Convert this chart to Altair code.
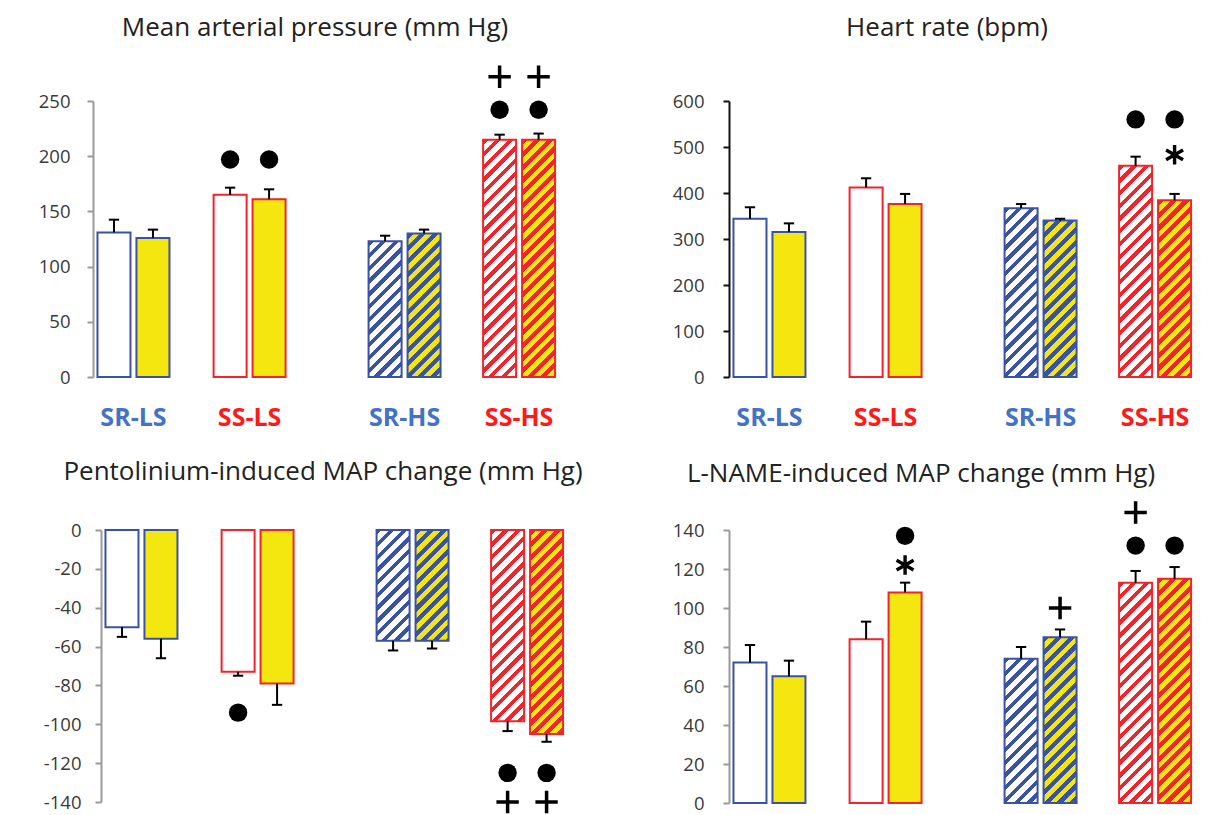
import math
import altair as alt
import pandas as pd

# ---------------- data ----------------
GROUPS = ["SR-LS", "SS-LS", "SR-HS", "SS-HS"]
# bar order: SR-LS white, SR-LS yellow, SS-LS white, SS-LS yellow, SR-HS white, SR-HS yellow, SS-HS white, SS-HS yellow
MAP_MEAN = [131, 126, 165, 161, 123, 130, 215, 215]
MAP_TOP = [142.5, 133.5, 171.5, 170, 128, 133.5, 219.5, 220.5]
HR_MEAN = [344, 315, 412, 376, 367, 340, 459, 384]
HR_TOP = [369, 334, 432, 398, 376, 344, 479, 398]
PENT_MEAN = [-50, -56, -73, -79, -57, -57, -98.5, -105]
PENT_TOP = [-55, -66, -75, -90, -62, -61, -103.5, -109]
LNAME_MEAN = [72, 65, 84, 108, 74, 85, 113, 115]
LNAME_TOP = [81, 73, 93, 113, 80, 89, 119, 121]

# significance symbols: (bar index, symbol, y value)
MAP_MARKS = [(2, "dot", 197), (3, "dot", 197), (6, "dot", 242), (7, "dot", 242), (6, "plus", 272), (7, "plus", 272)]
HR_MARKS = [(6, "dot", 560), (7, "dot", 560), (7, "star", 483)]
PENT_MARKS = [(2, "dot", -94), (6, "dot", -125), (7, "dot", -125), (6, "plus", -140), (7, "plus", -140)]
LNAME_MARKS = [(3, "dot", 137), (3, "star", 122), (5, "plus", 100), (6, "plus", 149), (6, "dot", 132), (7, "dot", 132)]

TITLES = ["Mean arterial pressure (mm Hg)", "Heart rate (bpm)",
          "Pentolinium-induced MAP change (mm Hg)", "L-NAME-induced MAP change (mm Hg)"]

# ---------------- style / layout ----------------
FONT = "Open Sans"
BLUE_LINE = "#3A52A6"
RED_LINE = "#F2232A"
BLUE_TEXT = "#4472C4"
RED_TEXT = "#FF1A1A"
YELLOW = "#F3E70F"
WHITE = "#FFFFFF"

W = 470
XMAX = 4.1
K = W / XMAX  # px per x unit
GROUP_POS = [0.353, 1.366, 2.718, 3.717]
PAIR_OFF = 0.17
BAR_W = 0.288
CAP = 0.045
HATCH_PERIOD = 9.0  # px, perpendicular


def hatch_gradient(bg, fg, w, h, frac=0.45):
    k = (w + h) / (w * w + h * h)
    D = (w + h) / math.sqrt(2)
    step = HATCH_PERIOD / D
    stops = []
    t = 0.0
    while t < 1.0:
        a = min(t + step * frac, 1.0)
        b = min(t + step, 1.0)
        stops += [{"offset": t, "color": fg}, {"offset": a, "color": fg},
                  {"offset": a, "color": bg}, {"offset": b, "color": bg}]
        t += step
    return {"gradient": "linear", "x1": 0, "y1": 0, "x2": k * w, "y2": k * h, "stops": stops}


def panel(title, means, tops, marks, ymin, ymax, step, height, axis_color, show_labels,
          title_x, title_y, label_pad, shift=0, title_size=26):
    rows = []
    for i, (m, t) in enumerate(zip(means, tops)):
        g, d = i // 2, i % 2
        c = GROUP_POS[g] + (PAIR_OFF if d else -PAIR_OFF)
        line = BLUE_LINE if g in (0, 2) else RED_LINE
        rows.append(dict(idx=i, group=GROUPS[g], mean=m, top=t, xc=c,
                         xl=c - BAR_W / 2, xr=c + BAR_W / 2, cl=c - CAP, cr=c + CAP,
                         zero=0, stroke=line, fill=(YELLOW if d else WHITE), hatched=g >= 2))
    df = pd.DataFrame(rows)

    xs = alt.Scale(domain=[-shift / K, XMAX - shift / K])
    ys = alt.Scale(domain=[ymin, ymax], nice=False, zero=False)
    yaxis = alt.Axis(values=list(range(ymin, ymax + 1, step)), title=None, grid=False,
                     domainColor=axis_color, tickColor=axis_color, domainWidth=2, tickWidth=2,
                     tickSize=6, labelFontSize=18.5, labelColor="#3a3a3a", labelFont=FONT,
                     labelPadding=label_pad, offset=-shift,
                     labelExpr="replace(datum.label, '\u2212', '-')")

    def X(f):
        return alt.X(f"{f}:Q", scale=xs, axis=None)

    def Y(f):
        return alt.Y(f"{f}:Q", scale=ys, axis=yaxis)

    base = alt.Chart(df)
    solid = base.transform_filter("!datum.hatched").mark_bar(strokeWidth=2).encode(
        x=X("xl"), x2="xr:Q", y=Y("mean"), y2="zero:Q",
        fill=alt.Fill("fill:N", scale=None), stroke=alt.Stroke("stroke:N", scale=None))

    layers = [solid]
    bar_px = BAR_W * K
    for r in rows:
        if not r["hatched"]:
            continue
        h = abs(r["mean"]) * height / (ymax - ymin)
        grad = hatch_gradient(r["fill"], r["stroke"], bar_px, h, 0.42 if r["fill"] == WHITE else 0.48)
        layers.append(
            alt.Chart(df[df.idx == r["idx"]]).mark_bar(fill=grad, stroke=r["stroke"], strokeWidth=2).encode(
                x=X("xl"), x2="xr:Q", y=Y("mean"), y2="zero:Q"))

    err = base.mark_rule(color="black", strokeWidth=2).encode(x=X("xc"), y=Y("mean"), y2="top:Q")
    cap = base.mark_rule(color="black", strokeWidth=2).encode(x=X("cl"), x2="cr:Q", y=Y("top"))
    layers += [err, cap]

    mrows = [dict(xc=rows[i]["xc"], yv=yv, sym=s) for (i, s, yv) in marks]
    mb = alt.Chart(pd.DataFrame(mrows))
    dots = mb.transform_filter("datum.sym == 'dot'").mark_point(
        shape="circle", filled=True, color="black", size=340, opacity=1).encode(x=X("xc"), y=Y("yv"))
    plus = mb.transform_filter("datum.sym == 'plus'").mark_point(
        shape="M-1,0H1M0,-1V1", filled=False, color="black", strokeWidth=3.5, size=500, opacity=1).encode(
        x=X("xc"), y=Y("yv"))
    star = mb.transform_filter("datum.sym == 'star'").mark_point(
        shape="M0,-1V1M-0.87,-0.5L0.87,0.5M-0.87,0.5L0.87,-0.5", filled=False, color="black",
        strokeWidth=3.4, size=380, opacity=1).encode(x=X("xc"), y=Y("yv"))
    layers += [dots, plus, star]

    if show_labels:
        ldf = pd.DataFrame(dict(group=GROUPS, xc=GROUP_POS,
                                col=[BLUE_TEXT, RED_TEXT, BLUE_TEXT, RED_TEXT]))
        labels = alt.Chart(ldf).mark_text(font=FONT, fontSize=25, fontWeight="bold",
                                          baseline="alphabetic").encode(
            x=X("xc"), y=alt.value(height + 49), text="group:N", color=alt.Color("col:N", scale=None))
        layers.append(labels)

    tdf = pd.DataFrame(dict(t=[title]))
    ttl = alt.Chart(tdf).mark_text(font=FONT, fontSize=title_size, color="#222222", baseline="alphabetic",
                                   align="center").encode(
        x=alt.value(title_x + shift), y=alt.value(title_y), text="t:N")
    layers.append(ttl)

    return alt.layer(*layers).properties(width=W, height=height)


p1 = panel(TITLES[0], MAP_MEAN, MAP_TOP, MAP_MARKS, 0, 250, 50, 276, "#9a9a9a", True, 222, -65, 17)
p2 = panel(TITLES[1], HR_MEAN, HR_TOP, HR_MARKS, 0, 600, 100, 276, "#111111", True, 218, -65, 19)
p3 = panel(TITLES[2], PENT_MEAN, PENT_TOP, PENT_MARKS, -140, 0, 20, 272, "#9a9a9a", False, 222, -50, 14, shift=8)
p4 = panel(TITLES[3], LNAME_MEAN, LNAME_TOP, LNAME_MARKS, 0, 140, 20, 273, "#9a9a9a", False, 192, -48, 19,
           title_size=26)

chart = alt.concat(p1, p2, p3, p4, columns=2, bounds="flush",
                   spacing={"column": 166, "row": 153}).configure_view(
    stroke=None).properties(padding={"left": 30, "top": 7, "right": 0, "bottom": 0})

chart.save("out.html", embed_options={"renderer": "svg", "actions": False})
